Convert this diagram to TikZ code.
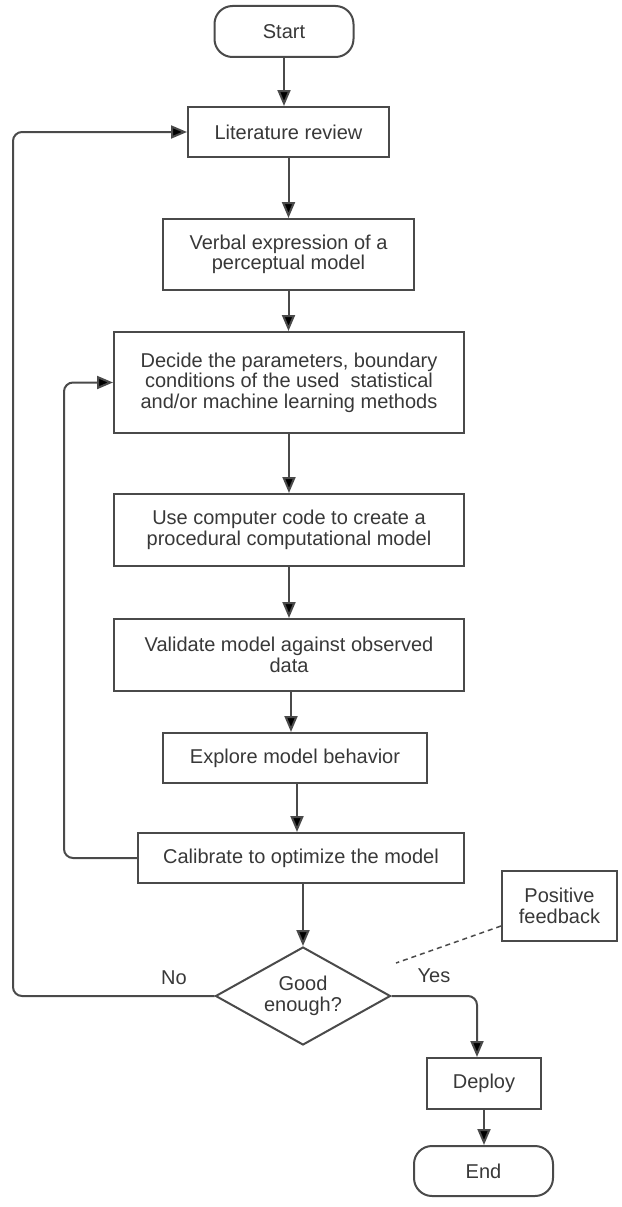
\documentclass[tikz,border=0pt]{standalone}
\usepackage{fontspec}
\setmainfont{Liberation Sans}
\usetikzlibrary{shapes.geometric,arrows.meta,calc}

\definecolor{edgegray}{HTML}{4A4A4A}
\definecolor{textgray}{HTML}{383838}

\begin{document}
\begin{tikzpicture}[
  x=1pt, y=-1pt,
  every node/.style={font=\fontsize{20}{20.5}\selectfont, text=textgray},
  boxstyle/.style={draw=edgegray, line width=2pt, rectangle, align=center, inner sep=2pt},
  termstyle/.style={boxstyle, rounded corners=18pt},
  decision/.style={draw=edgegray, line width=2pt, diamond, aspect=1.79, inner sep=0pt, align=center},
  arr/.style={draw=edgegray, line width=2pt, -{Triangle[length=16pt,width=13pt,fill=black]}},
  loopline/.style={arr, rounded corners=9pt},
  plain/.style={font=\fontsize{20}{20.5}\selectfont, text=textgray}
]
\useasboundingbox (0,0) rectangle (621,1207);

% process steps
\node[termstyle, minimum width=139pt, minimum height=51pt] (start) at (284,31.5) {Start};
\node[boxstyle, minimum width=201pt, minimum height=50pt] (lit) at (288.5,132) {Literature review};
\node[boxstyle, minimum width=251pt, minimum height=71pt] (verbal) at (288.5,254.5)
  {Verbal expression of a\\perceptual model};
\node[boxstyle, minimum width=350pt, minimum height=101pt] (decide) at (289,382.5)
  {Decide the parameters, boundary\\conditions of the used\ \ statistical\\and/or machine learning methods};
\node[boxstyle, minimum width=350pt, minimum height=72pt] (code) at (289,530)
  {Use computer code to create a\\procedural computational model};
\node[boxstyle, minimum width=350pt, minimum height=72pt] (valid) at (289,655)
  {Validate model against observed\\data};
\node[boxstyle, minimum width=264pt, minimum height=50pt] (explore) at (295,758) {Explore model behavior};
\node[boxstyle, minimum width=326pt, minimum height=50pt] (calib) at (301,858) {Calibrate to optimize the model};
\node[decision, minimum width=175pt, minimum height=98pt] (good) at (303,996) {Good\\enough?};
\node[boxstyle, minimum width=114pt, minimum height=51pt] (deploy) at (484,1083.5) {Deploy};
\node[termstyle, minimum width=139pt, minimum height=50pt] (end) at (483.5,1171) {End};

% annotation
\node[boxstyle, minimum width=115pt, minimum height=70pt] (pos) at (559.5,906) {Positive\\feedback};

% branch labels
\node[plain] (nolab) at (174,978) {No};
\node[plain] (yeslab) at (434,976) {Yes};

% routing helpers
\coordinate (outerx) at (13,0);
\coordinate (innerx) at (64,0);
\coordinate (yesx) at (477,0);
\coordinate (noteend) at (396,963);

% main flow
\draw[arr] (start.south) -- (start.south |- lit.north);
\draw[arr] (lit.south) -- (lit.south |- verbal.north);
\draw[arr] (verbal.south) -- (verbal.south |- decide.north);
\draw[arr] (decide.south) -- (decide.south |- code.north);
\draw[arr] (code.south) -- (code.south |- valid.north);
\draw[arr] ($(valid.south)+(2,0)$) -- ($(valid.south |- explore.north)+(2,0)$);
\draw[arr] ($(explore.south)+(2,0)$) -- ($(explore.south |- calib.north)+(2,0)$);
\draw[arr] ($(calib.south)+(2,0)$) -- (good.north);

% loops back
\draw[loopline] (calib.west) -- (calib.west -| innerx) -- (innerx |- decide.west) -- (decide.west);
\draw[loopline] (good.west) -- (good.west -| outerx) -- (outerx |- lit.west) -- (lit.west);

% accept branch
\draw[loopline] (good.east) -- (good.east -| yesx) -- (yesx |- deploy.north);
\draw[arr] (deploy.south) -- (deploy.south |- end.north);

% note connector
\draw[draw=edgegray, line width=1.5pt, dash pattern=on 5pt off 4pt] ($(pos.west)+(0,20)$) -- (noteend);
\end{tikzpicture}
\end{document}
